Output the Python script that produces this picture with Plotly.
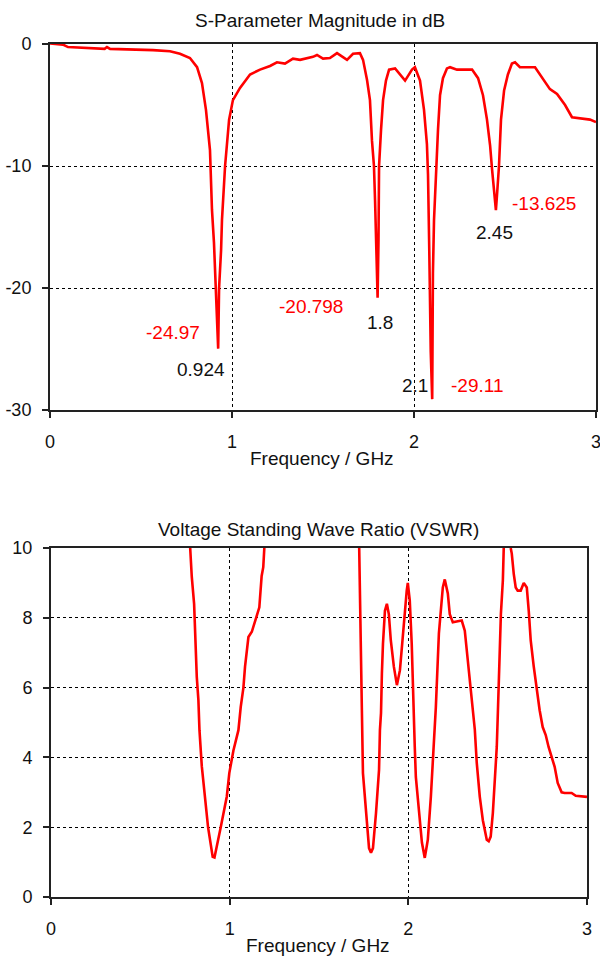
import plotly.graph_objects as go

# ---------------- data ----------------
s11_freq = [0, 0.071, 0.099, 0.22, 0.30, 0.313, 0.33, 0.566, 0.659, 0.714,
            0.769, 0.808, 0.835, 0.857, 0.879, 0.890, 0.901, 0.924, 0.929, 0.940,
            0.945, 0.962, 0.984, 1.005, 1.044, 1.099, 1.154, 1.209, 1.247, 1.291,
            1.335, 1.374, 1.445, 1.467, 1.50, 1.538, 1.577, 1.632, 1.665, 1.703,
            1.720, 1.742, 1.758, 1.769, 1.780, 1.786, 1.80, 1.805, 1.808, 1.819,
            1.830, 1.846, 1.863, 1.896, 1.923, 1.951, 1.989, 2.005, 2.033, 2.055,
            2.071, 2.077, 2.084, 2.092, 2.10, 2.104, 2.110, 2.121, 2.132, 2.143,
            2.159, 2.181, 2.198, 2.236, 2.319, 2.352, 2.379, 2.401, 2.418, 2.429,
            2.440, 2.45, 2.456, 2.467, 2.478, 2.495, 2.516, 2.538, 2.555, 2.582,
            2.665, 2.720, 2.747, 2.786, 2.830, 2.868, 2.923, 2.967, 3.0]
s11_db = [0.05, -0.05, -0.25, -0.35, -0.4, -0.25, -0.4, -0.5, -0.6, -0.8,
          -1.15, -1.9, -3.2, -5.4, -8.7, -13.6, -16.3, -24.97, -20, -16.9,
          -14.4, -10, -6.2, -4.6, -3.6, -2.5, -2.1, -1.8, -1.5, -1.6,
          -1.2, -1.3, -1.05, -0.9, -1.2, -1.15, -0.75, -1.3, -0.8, -0.75,
          -1.3, -2.95, -4.6, -7.9, -10, -12.8, -20.798, -16, -10, -7,
          -4.6, -3, -2.1, -2, -2.5, -3, -2.1, -1.9, -3, -5.4,
          -8.2, -10.7, -17, -25.2, -29.11, -18.8, -14.4, -10, -7, -4.2,
          -2.8, -2.0, -1.9, -2.1, -2.1, -2.8, -4.2, -6.2, -8.3, -10.3,
          -12.4, -13.625, -12.4, -10, -6.2, -3.8, -2.5, -1.6, -1.5, -1.9,
          -1.9, -3.1, -3.7, -4.1, -5.0, -6.0, -6.1, -6.2, -6.4]

vswr_freq = [0.779, 0.788, 0.801, 0.807, 0.816, 0.825, 0.831, 0.844, 0.863, 0.879,
             0.905, 0.915, 0.950, 0.984, 0.998, 1.021, 1.049, 1.062, 1.077, 1.086,
             1.105, 1.124, 1.148, 1.166, 1.179, 1.188, 1.194,
             1.46,
             1.725, 1.729, 1.734, 1.740, 1.746, 1.763, 1.780, 1.791, 1.802, 1.819,
             1.836, 1.841, 1.847, 1.852, 1.858, 1.869, 1.880, 1.891, 1.902, 1.919,
             1.936, 1.953, 1.969, 1.980, 1.991, 1.997, 2.008, 2.019, 2.025, 2.031,
             2.036, 2.042, 2.059, 2.076, 2.092, 2.109, 2.126, 2.143, 2.154, 2.171,
             2.182, 2.193, 2.204, 2.221, 2.232, 2.249, 2.277, 2.299, 2.316, 2.327,
             2.344, 2.361, 2.372, 2.383, 2.400, 2.417, 2.439, 2.450, 2.461, 2.473,
             2.484, 2.495, 2.501, 2.512, 2.518, 2.529, 2.534,
             2.55,
             2.573, 2.579, 2.590, 2.601, 2.612, 2.629, 2.646, 2.663, 2.674, 2.685,
             2.702, 2.718, 2.735, 2.752, 2.769, 2.785, 2.802, 2.819, 2.836, 2.858,
             2.875, 2.914, 2.937, 3.0]
vswr_val = [10, 9.17, 8.4, 7.54, 6.3, 5.64, 4.78, 3.75, 2.9, 2.0,
            1.15, 1.13, 2.0, 2.88, 3.55, 4.2, 4.78, 5.45, 6.0, 6.6,
            7.45, 7.6, 8.0, 8.3, 9.2, 9.45, 10,
            None,
            10, 8.3, 6.7, 5.35, 3.55, 2.4, 1.4, 1.27, 1.4, 2.4,
            3.64, 4.78, 5.27, 6.4, 7.25, 8.2, 8.4, 8.1, 7.35, 6.6,
            6.07, 6.5, 7.55, 8.3, 8.78, 9.0, 8.5, 7.25, 6.0, 4.87,
            4.3, 3.44, 2.4, 1.56, 1.12, 1.64, 2.87, 4.4, 5.44, 7.55,
            8.2, 8.87, 9.1, 8.7, 8.1, 7.87, 7.9, 7.92, 7.63, 7.07,
            6.3, 5.44, 4.8, 3.84, 2.87, 2.2, 1.64, 1.6, 1.73, 2.4,
            3.35, 4.3, 5.27, 6.97, 8.1, 9.07, 10,
            None,
            10, 9.84, 9.26, 8.87, 8.78, 8.78, 9.0, 8.87, 8.2, 7.35,
            6.6, 5.92, 5.35, 4.87, 4.64, 4.3, 4.0, 3.73, 3.27, 3.0,
            2.98, 2.98, 2.9, 2.87]

marker_freq = [0.924, 1.8, 2.1, 2.45]
marker_db = [-24.97, -20.798, -29.11, -13.625]
marker_freq_text = ["0.924", "1.8", "2.1", "2.45"]
marker_db_text = ["-24.97", "-20.798", "-29.11", "-13.625"]

freq_ticks = [0, 1, 2, 3]
db_ticks = [0, -10, -20, -30]
db_tick_text = ["0", "-10", "-20", "-30"]
vswr_ticks = [0, 2, 4, 6, 8, 10]

# ---------------- styling ----------------
FONT = "Liberation Sans, Arial, sans-serif"
FS = 19
FS_TICK = 18
RED = "#ff0000"
INK = "#111"

fig = go.Figure()
fig.add_trace(go.Scatter(x=s11_freq, y=s11_db, mode="lines",
                         line=dict(color=RED, width=2.6), xaxis="x", yaxis="y",
                         showlegend=False, hoverinfo="skip"))
fig.add_trace(go.Scatter(x=vswr_freq, y=vswr_val, mode="lines", connectgaps=False,
                         line=dict(color=RED, width=2.6), xaxis="x2", yaxis="y2",
                         showlegend=False, hoverinfo="skip"))

axis_style = dict(showline=True, linecolor="#222", linewidth=2, mirror=True,
                  ticks="outside", ticklen=6, tickwidth=2, tickcolor="#222",
                  showgrid=True, gridcolor="black", gridwidth=1, griddash="3px,3px",
                  zeroline=False, automargin=False, ticklabeloverflow="allow",
                  tickfont=dict(family=FONT, size=FS_TICK, color=INK))

fig.update_layout(
    width=600, height=960, autosize=False,
    margin=dict(l=0, r=0, t=0, b=0, autoexpand=False),
    paper_bgcolor="white", plot_bgcolor="white",
    xaxis=dict(axis_style, domain=[50/600, 596/600], range=[0, 3], anchor="y",
               tickvals=freq_ticks, ticklabelstandoff=8),
    yaxis=dict(axis_style, domain=[1-410/960, 1-44/960], range=[-30, 0], anchor="x",
               tickvals=db_ticks, ticktext=db_tick_text, ticklabelstandoff=7),
    xaxis2=dict(axis_style, domain=[51/600, 587/600], range=[0, 3], anchor="y2",
                tickvals=freq_ticks, ticklabelstandoff=8),
    yaxis2=dict(axis_style, domain=[1-897/960, 1-548/960], range=[0, 10], anchor="x2",
                tickvals=vswr_ticks, ticklabelstandoff=7),
)

annots = []
# titles
for txt, xc, yc in [("S-Parameter Magnitude in dB", 320, 21),
                    ("Frequency / GHz", 322, 458),
                    ("Voltage Standing Wave Ratio (VSWR)", 318, 529),
                    ("Frequency / GHz", 318, 945)]:
    annots.append(dict(text=txt, xref="paper", yref="paper", x=xc/600, y=1-yc/960,
                       xanchor="center", yanchor="middle", showarrow=False,
                       font=dict(family=FONT, size=FS, color=INK)))

# marker labels (pixel offsets from the marker point)
freq_offsets = [(-17, -21), (2, -25), (-17, 14), (-1, -22)]
db_offsets = [(-45, 16), (-67, -9), (45, 14), (48, 7)]
for f, d, ft, dt, fo, do in zip(marker_freq, marker_db, marker_freq_text,
                                marker_db_text, freq_offsets, db_offsets):
    annots.append(dict(text=ft, x=f, y=d, xref="x", yref="y", showarrow=False,
                       xanchor="center", yanchor="middle", xshift=fo[0], yshift=fo[1],
                       font=dict(family=FONT, size=FS, color=INK)))
    annots.append(dict(text=dt, x=f, y=d, xref="x", yref="y", showarrow=False,
                       xanchor="center", yanchor="middle", xshift=do[0], yshift=do[1],
                       font=dict(family=FONT, size=FS, color=RED)))

fig.update_layout(annotations=annots)
fig.write_html("out.html")
